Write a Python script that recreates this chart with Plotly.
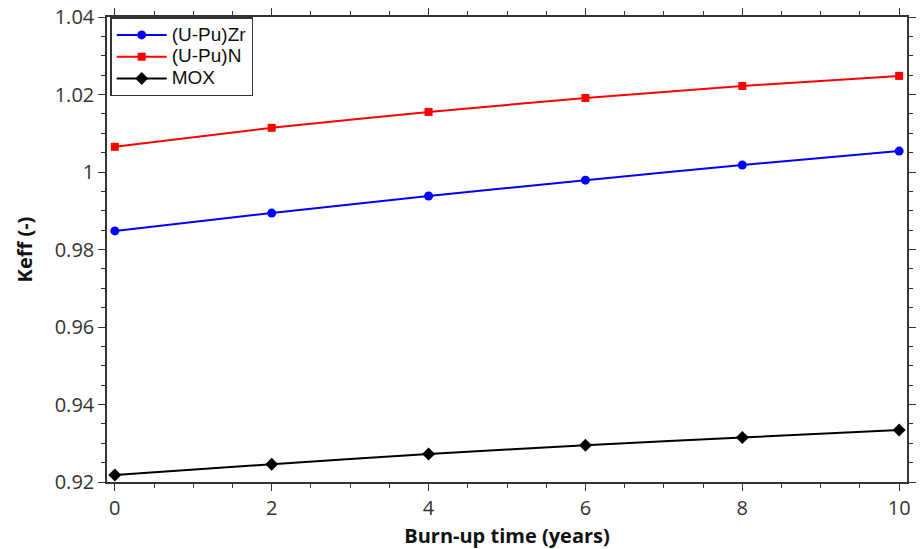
import plotly.graph_objects as go

burnup_years = [0, 2, 4, 6, 8, 10]
keff_upuzr = [0.9848, 0.9894, 0.9938, 0.9979, 1.0018, 1.0054]
keff_upun = [1.0065, 1.0114, 1.0155, 1.0191, 1.0222, 1.0248]
keff_mox = [0.9218, 0.9246, 0.9272, 0.9295, 0.9315, 0.9334]

series_names = ["(U-Pu)Zr", "(U-Pu)N", "MOX"]

y_tickvals = [0.92, 0.94, 0.96, 0.98, 1.00, 1.02, 1.04]
y_ticktext = ["0.92", "0.94", "0.96", "0.98", "1", "1.02", "1.04"]
x_tickvals = [0, 2, 4, 6, 8, 10]

tick_font = "Open Sans, Noto Sans, DejaVu Sans, sans-serif"
title_font = "Open Sans, DejaVu Sans, sans-serif"
legend_font = "Liberation Sans, Arial, sans-serif"


def legend_label(name):
    return "<span style='font-size:19px'>" + name + "</span>"


fig = go.Figure()
fig.add_trace(go.Scatter(x=burnup_years, y=keff_upuzr, name=legend_label(series_names[0]), mode="lines+markers",
                         line=dict(color="#0000ff", width=2, shape="spline", smoothing=0.3),
                         marker=dict(symbol="circle", size=9, color="#0000ff")))
fig.add_trace(go.Scatter(x=burnup_years, y=keff_upun, name=legend_label(series_names[1]), mode="lines+markers",
                         line=dict(color="#ff0000", width=2, shape="spline", smoothing=0.3),
                         marker=dict(symbol="square", size=8, color="#ff0000")))
fig.add_trace(go.Scatter(x=burnup_years, y=keff_mox, name=legend_label(series_names[2]), mode="lines+markers",
                         line=dict(color="#000000", width=2, shape="spline", smoothing=0.3),
                         marker=dict(symbol="diamond", size=10, color="#000000")))

axis_common = dict(showline=True, linecolor="#333333", linewidth=1.5, mirror="ticks",
                   ticks="outside", ticklen=7, tickwidth=1.2, tickcolor="#333333",
                   showgrid=False, zeroline=False, automargin=False,
                   ticklabeloverflow="allow",
                   tickfont=dict(family=tick_font, size=20, color="#333333"))

fig.update_xaxes(range=[-0.1, 10.1], tickvals=x_tickvals,
                 minor=dict(dtick=0.5, ticks="outside", ticklen=4, tickcolor="#333333", showgrid=False),
                 title=dict(text="<b>Burn-up time (years)</b>", font=dict(family=title_font, size=20, color="#111111"), standoff=10),
                 **axis_common)
fig.update_yaxes(range=[0.92, 1.04], tickvals=y_tickvals, ticktext=y_ticktext,
                 minor=dict(dtick=0.005, tick0=0.92, ticks="outside", ticklen=4, tickcolor="#333333", showgrid=False),
                 title=dict(text="<b>Keff (-)</b>", font=dict(family=title_font, size=20, color="#111111"), standoff=17),
                 **axis_common)

fig.update_layout(
    width=921, height=549,
    margin=dict(l=107, r=14, t=17, b=67),
    plot_bgcolor="white", paper_bgcolor="white",
    font=dict(family=tick_font, color="#111111"),
    legend=dict(x=0.004, y=0.999, xanchor="left", yanchor="top",
                bordercolor="#333333", borderwidth=1.5, bgcolor="white",
                font=dict(family=legend_font, size=14.5, color="#111111"),
                tracegroupgap=0, itemwidth=50),
    showlegend=True,
)

fig.write_html("out.html", config={"displayModeBar": False},
               post_script="document.body.style.margin='0px';")
